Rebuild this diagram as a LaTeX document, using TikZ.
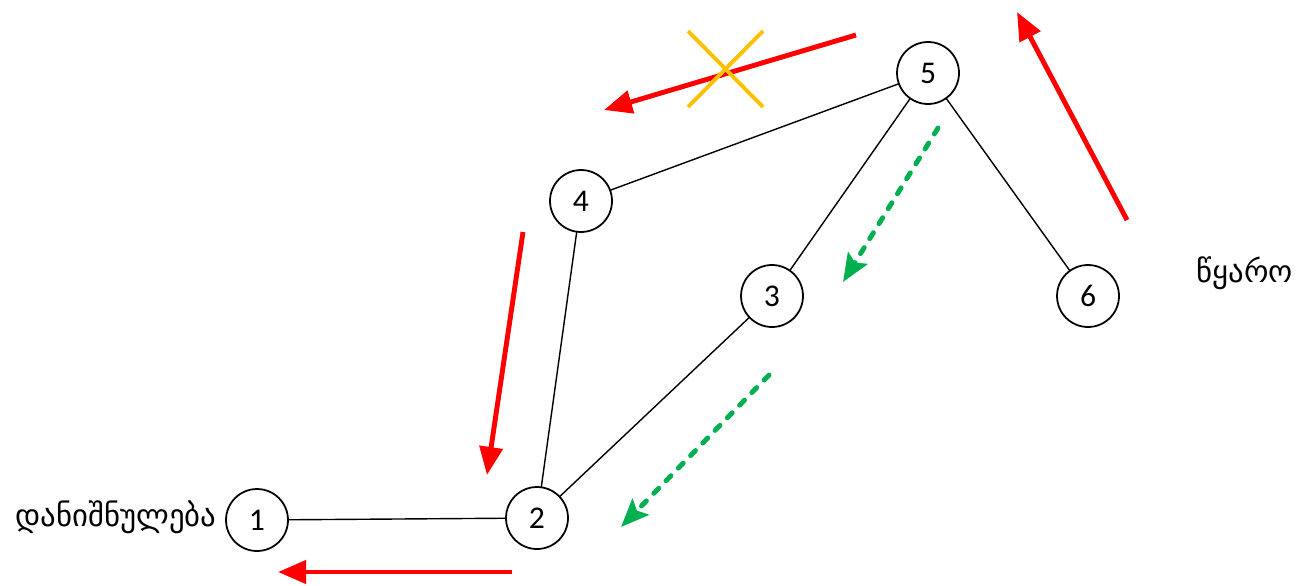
\documentclass[tikz,border=0pt]{standalone}
\usepackage{fontspec}
\setmainfont{Carlito}
\newfontfamily\geofont[Script=Georgian]{DejaVu Sans}
\usetikzlibrary{arrows.meta}
\definecolor{flowred}{RGB}{255,0,0}
\definecolor{flowgreen}{RGB}{0,176,80}
\definecolor{crossgold}{RGB}{255,192,0}

\begin{document}
\begin{tikzpicture}[x=0.02cm, y=-0.02cm,
  vertex/.style={circle, draw, line width=1pt, minimum size=1.24cm, inner sep=0pt, fill=white, font=\fontsize{18}{20}\selectfont},
  link/.style={line width=0.8pt},
  redarrow/.style={flowred, line width=2.8pt, -{Triangle[length=16pt, width=13pt]}},
  greenarrow/.style={flowgreen, line width=2.8pt, line cap=round, dash pattern=on 4pt off 6pt, -{Stealth[length=16pt, width=13pt, inset=3pt]}},
  tag/.style={font=\geofont\fontsize{17.5}{20}\selectfont}]
\useasboundingbox (0,0) rectangle (1307,585);

% links
\draw[link] (257,520) -- (537,518);
\draw[link] (537,518) -- (581,201);
\draw[link] (537,518) -- (772,296);
\draw[link] (581,201) -- (928,73);
\draw[link] (772,296) -- (928,73);
\draw[link] (928,73) -- (1088,296);

% vertices
\node[vertex] (n1) at (257,520) {1};
\node[vertex] (n2) at (537,518) {2};
\node[vertex] (n3) at (772,296) {3};
\node[vertex] (n4) at (581,201) {4};
\node[vertex] (n5) at (928,73) {5};
\node[vertex] (n6) at (1088,296) {6};

\node[tag] (dst) at (116,517) {დანიშნულება};
\node[tag] (src) at (1245,273) {წყარო};

% flow arrows
\draw[redarrow] (856,35) -- (604,110);
\draw[redarrow] (523,232) -- (487,475);
\draw[redarrow] (512,572) -- (278,572);
\draw[redarrow] (1127,220) -- (1017,12);
\draw[greenarrow] (938,128) -- (843,282);
\draw[greenarrow] (769,375) -- (621,527);

% blocked route
\draw[crossgold, line width=2.2pt] (688,31) -- (763,107);
\draw[crossgold, line width=2.2pt] (763,31) -- (688,107);

\end{tikzpicture}
\end{document}
